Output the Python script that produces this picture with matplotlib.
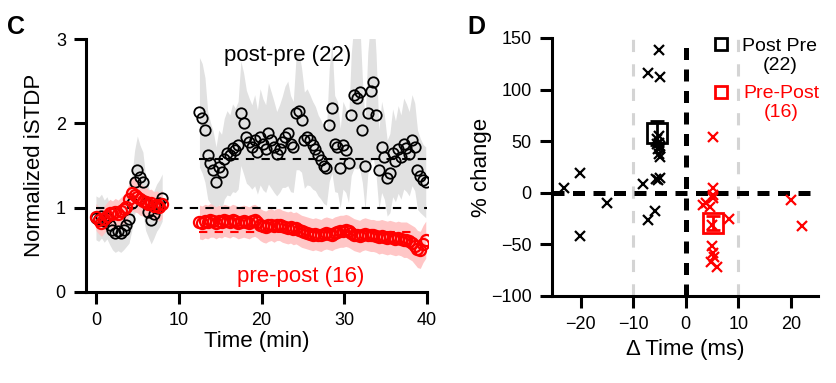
import numpy as np
from matplotlib import pyplot as plt

plt.rcParams['font.family'] = ['Liberation Sans', 'DejaVu Sans']

# ---- panel C: normalized iSTDP over time (20 s bins) ----
t_base = np.round(np.arange(0, 8.01, 1 / 3), 2)
t_post = np.round(12.5 + np.arange(83) / 3, 2)

postpre_base = [0.88, 0.86, 0.90, 0.84, 0.88, 0.80, 0.74, 0.70, 0.72, 0.70, 0.74, 0.80, 0.86,
                1.05, 1.30, 1.45, 1.36, 1.30, 1.05, 0.95, 0.85, 0.92, 1.00, 1.05, 1.12]
postpre_base_sem = [0.26, 0.26, 0.26, 0.25, 0.25, 0.24, 0.24, 0.23, 0.23, 0.23, 0.24, 0.26, 0.28,
                    0.32, 0.38, 0.40, 0.38, 0.36, 0.32, 0.30, 0.28, 0.28, 0.28, 0.28, 0.28]
postpre_post = [2.13, 2.06, 1.92, 1.62, 1.53, 1.45, 1.30, 1.48, 1.42, 1.58, 1.65, 1.62, 1.71,
                1.68, 1.74, 2.12, 2.00, 1.84, 1.78, 1.72, 1.80, 1.66, 1.84, 1.75, 1.70, 1.88,
                1.80, 1.72, 1.64, 1.70, 1.78, 1.84, 1.88, 1.76, 1.72, 2.12, 2.15, 2.04, 1.80,
                1.84, 1.80, 1.74, 1.70, 1.62, 1.57, 1.50, 1.47, 1.98, 2.18, 1.76, 1.72, 1.47,
                1.74, 1.68, 1.53, 2.10, 2.34, 2.30, 2.37, 1.92, 1.50, 2.12, 2.38, 2.49, 2.10,
                1.45, 1.72, 1.60, 1.35, 1.41, 1.65, 1.55, 1.69, 1.60, 1.76, 1.71, 1.64, 1.80,
                1.72, 1.45, 1.38, 1.33, 1.30]
postpre_post_sem = [0.65, 0.65, 0.62, 0.52, 0.48, 0.45, 0.42, 0.44, 0.45, 0.48, 0.50, 0.48, 0.52,
                    0.50, 0.52, 0.62, 0.60, 0.55, 0.52, 0.50, 0.54, 0.50, 0.57, 0.54, 0.52, 0.60,
                    0.57, 0.54, 0.50, 0.52, 0.54, 0.60, 0.62, 0.57, 0.54, 0.67, 0.70, 0.62, 0.57,
                    0.57, 0.54, 0.52, 0.50, 0.48, 0.47, 0.45, 0.44, 0.67, 0.77, 0.57, 0.54, 0.47,
                    0.52, 0.50, 0.47, 0.72, 0.87, 0.84, 0.90, 0.62, 0.52, 0.72, 0.84, 0.90, 0.72,
                    0.47, 0.54, 0.50, 0.45, 0.47, 0.52, 0.48, 0.52, 0.50, 0.54, 0.52, 0.50, 0.54,
                    0.52, 0.47, 0.44, 0.42, 0.42]

prepost_base = [0.89, 0.85, 0.82, 0.86, 0.90, 0.94, 0.92, 0.95, 0.93, 0.96, 0.98, 1.01, 1.10,
                1.17, 1.15, 1.13, 1.10, 1.08, 1.07, 1.04, 1.05, 1.02, 1.03, 1.01, 1.04]
prepost_base_sem = [0.16, 0.16, 0.16, 0.16, 0.16, 0.16, 0.16, 0.16, 0.16, 0.16, 0.17, 0.18, 0.19,
                    0.20, 0.20, 0.19, 0.19, 0.18, 0.18, 0.17, 0.17, 0.17, 0.17, 0.17, 0.17]
prepost_post = [0.83, 0.82, 0.84, 0.83, 0.85, 0.84, 0.82, 0.84, 0.83, 0.85, 0.84, 0.83, 0.85,
                0.84, 0.82, 0.83, 0.84, 0.83, 0.82, 0.84, 0.85, 0.83, 0.80, 0.78, 0.77, 0.79,
                0.80, 0.78, 0.80, 0.80, 0.78, 0.77, 0.76, 0.77, 0.75, 0.76, 0.74, 0.72, 0.71,
                0.70, 0.69, 0.68, 0.69, 0.68, 0.67, 0.69, 0.70, 0.69, 0.68, 0.70, 0.71, 0.72,
                0.72, 0.73, 0.72, 0.70, 0.68, 0.67, 0.66, 0.68, 0.69, 0.68, 0.67, 0.67, 0.66,
                0.65, 0.66, 0.65, 0.64, 0.65, 0.64, 0.63, 0.64, 0.63, 0.62, 0.62, 0.60, 0.58,
                0.55, 0.51, 0.50, 0.57, 0.62]
prepost_post_sem = [0.20, 0.20, 0.20, 0.20, 0.20, 0.19, 0.19, 0.19, 0.19, 0.19, 0.19, 0.19, 0.19,
                    0.19, 0.19, 0.19, 0.19, 0.19, 0.19, 0.19, 0.19, 0.19, 0.19, 0.19, 0.19, 0.19,
                    0.19, 0.19, 0.19, 0.19, 0.19, 0.19, 0.19, 0.19, 0.19, 0.19, 0.19, 0.19, 0.19,
                    0.19, 0.19, 0.19, 0.19, 0.19, 0.19, 0.19, 0.19, 0.19, 0.19, 0.19, 0.19, 0.19,
                    0.19, 0.19, 0.19, 0.19, 0.19, 0.19, 0.19, 0.19, 0.19, 0.19, 0.19, 0.19, 0.19,
                    0.20, 0.20, 0.20, 0.20, 0.20, 0.20, 0.20, 0.20, 0.20, 0.21, 0.21, 0.21, 0.21,
                    0.22, 0.22, 0.22, 0.22, 0.22]
postpre_mean_after = 1.58
prepost_mean_after = 0.71

# ---- panel D: % change vs spike timing ----
postpre_dt = [-23.3, -20.1, -20.1, -15.0, -8.2, -7.2, -5.9, -7.2, -4.9, -5.1, -5.3,
              -5.0, -5.6, -5.4, -5.2, -5.0, -5.3, -5.1, -4.9, -5.2, -5.4, -5.0]
postpre_pc = [5, 19, -42, -10, 9, -26, -18, 116, 112, 138, 12,
              14, 13, 52, 48, 45, 42, 38, 35, 55, 47, 43]
prepost_dt = [5.1, 5.1, 5.2, 3.3, 3.9, 8.2, 5.0, 5.0, 5.1, 4.9, 5.9, 22.2, 20.1, 5.1, 4.6, 5.3]
prepost_pc = [54, 5, -5, -12, -10, -25, -31, -52, -58, -67, -72, -32, -7, -2, -14, -62]
mean_dt = [-5.5, 5.1]
mean_pc = [58, -29]
mean_sem = [12, 7]

black = '#000000'
red = '#ff0000'

fig = plt.figure(figsize=(8.37, 3.83), dpi=100)
ax1 = fig.add_axes([86 / 837, 1 - 292 / 383, (428 - 86) / 837, (292 - 39) / 383])
ax2 = fig.add_axes([552 / 837, 1 - 296 / 383, (818 - 552) / 837, (296 - 38) / 383])

for ax in (ax1, ax2):
    for s in ('top', 'right'):
        ax.spines[s].set_visible(False)
    for s in ('left', 'bottom'):
        ax.spines[s].set_linewidth(2.2)
    ax.tick_params(width=2.2, length=8.5, labelsize=13, pad=6)

# sem bands
for t, v, e, c in ((t_base, postpre_base, postpre_base_sem, '#e1e1e1'),
                   (t_post, postpre_post, postpre_post_sem, '#e1e1e1'),
                   (t_base, prepost_base, prepost_base_sem, '#ffc6c6'),
                   (t_post, prepost_post, prepost_post_sem, '#ffc6c6')):
    v = np.array(v)
    e = np.array(e)
    ax1.fill_between(t, v - e, v + e, color=c, lw=0, zorder=1)

ax1.plot([0, 40], [1, 1], ls=(0, (4, 3.5)), color=black, lw=1.5, zorder=2)
ax1.plot([t_post[0], 40], [postpre_mean_after] * 2, ls=(0, (4, 3.5)), color=black, lw=1.5, zorder=2)
ax1.plot([t_post[0], 38.5], [prepost_mean_after] * 2, ls=(0, (4, 3.5)), color=red, lw=1.5, zorder=2)

for t, v in ((t_base, postpre_base), (t_post, postpre_post)):
    ax1.plot(t, v, 'o', ms=7.5, mfc='none', mec=black, mew=1.3, zorder=3)
for t, v in ((t_base, prepost_base), (t_post, prepost_post)):
    ax1.plot(t, v, 'o', ms=8, mfc='none', mec=red, mew=1.6, zorder=4)

ax1.text(23.2, 2.81, 'post-pre (22)', fontsize=16, color=black, ha='center', va='center')
ax1.text(24.7, 0.18, 'pre-post (16)', fontsize=16, color=red, ha='center', va='center')

ax1.set_xlim(-1.2, 40.1)
ax1.set_ylim(0, 3)
ax1.set_xticks([0, 10, 20, 30, 40])
ax1.set_yticks([0, 1, 2, 3])
ax1.spines['bottom'].set_bounds(-1.2, 40)
ax1.set_xlabel('Time (min)', fontsize=16, labelpad=1)
ax1.set_ylabel('Normalized iSTDP', fontsize=16, labelpad=8)

# panel D
ax2.axvline(-10, color='#d4d4d4', lw=2.2, ls=(0, (4, 4)), zorder=1)
ax2.axvline(10, color='#d4d4d4', lw=2.2, ls=(0, (4, 4)), zorder=1)
ax2.axhline(0, color=black, lw=3.6, ls=(0, (2.4, 1.7)), zorder=2)
ax2.axvline(0, color=black, lw=3.6, ls=(0, (2.4, 1.9)), zorder=2)

ax2.plot(postpre_dt, postpre_pc, 'x', ms=7, mec=black, mew=1.6, zorder=3)
ax2.plot(prepost_dt, prepost_pc, 'x', ms=7, mec=red, mew=1.6, zorder=3)
for dx, m, e, c in zip(mean_dt, mean_pc, mean_sem, (black, red)):
    ax2.errorbar(dx, m, yerr=e, fmt='s', ms=14, mfc='none', mec=c, mew=2,
                 ecolor=c, elinewidth=2, capsize=5, capthick=2, zorder=4)

# legend
ax2.plot([6.8], [144], 's', ms=8, mfc='none', mec=black, mew=2, clip_on=False)
ax2.plot([6.8], [98], 's', ms=8, mfc='none', mec=red, mew=2, clip_on=False)
ax2.text(17.9, 133, 'Post Pre\n(22)', fontsize=14, color=black, ha='center', va='center',
         multialignment='center', linespacing=1.15)
ax2.text(18.2, 87, 'Pre-Post\n(16)', fontsize=14, color=red, ha='center', va='center',
         multialignment='center', linespacing=1.15)

ax2.set_xlim(-25.5, 25.2)
ax2.set_ylim(-100, 150)
ax2.set_xticks([-20, -10, 0, 10, 20])
ax2.set_yticks([-100, -50, 0, 50, 100, 150])
ax2.set_xlabel('Δ Time (ms)', fontsize=16, labelpad=4)
ax2.set_ylabel('% change', fontsize=16, labelpad=-1)

fig.text(7 / 837, 1 - 15 / 383, 'C', fontsize=18, fontweight='bold', ha='left', va='top')
fig.text(467 / 837, 1 - 15 / 383, 'D', fontsize=18, fontweight='bold', ha='left', va='top')

fig.savefig('out.png', dpi=100)
